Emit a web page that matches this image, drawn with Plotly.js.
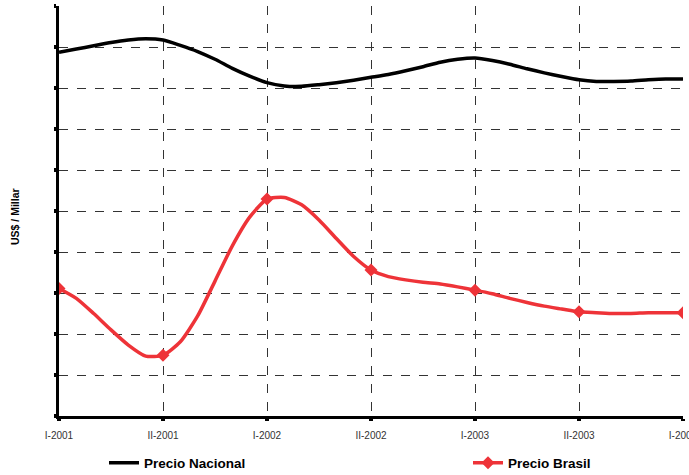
<!DOCTYPE html>
<html>
<head>
<meta charset="utf-8">
<script src="https://cdn.plot.ly/plotly-3.0.1.min.js"></script>
<style>
html,body{margin:0;padding:0;background:#fff;}
#chart{width:689px;height:475px;}
</style>
</head>
<body>
<div id="chart"></div>
<script>
// Monthly positions, I-2001 (0) .. I-2004 (36)
var months = [0,1,2,3,4,5,6,7,8,9,10,11,12,13,14,15,16,17,18,19,20,21,22,23,24,25,26,27,28,29,30,31,32,33,34,35,36];
var tickVals = [0,6,12,18,24,30,36];
var tickLabels = ["I-2001","II-2001","I-2002","II-2002","I-2003","II-2003","I-2004"];
var precioNacional = [8.87,8.95,9.03,9.11,9.17,9.20,9.17,9.04,8.89,8.70,8.48,8.29,8.13,8.05,8.04,8.08,8.13,8.19,8.26,8.33,8.42,8.52,8.63,8.70,8.73,8.67,8.58,8.47,8.37,8.28,8.20,8.16,8.16,8.17,8.20,8.22,8.22];
var precioBrasil = [3.11,2.87,2.50,2.10,1.73,1.46,1.48,1.81,2.44,3.29,4.15,4.85,5.29,5.33,5.15,4.78,4.33,3.89,3.56,3.40,3.32,3.26,3.22,3.15,3.07,2.98,2.87,2.77,2.68,2.61,2.54,2.52,2.50,2.50,2.52,2.52,2.52];

var RED = '#EE3338';
var brColors = months.map(function(m){ return (m % 6 === 0) ? RED : 'rgba(0,0,0,0)'; });

var fontTick = '"Liberation Sans Narrow", "Arial Narrow", "Liberation Sans", Arial, sans-serif';
var fontBold = '"Liberation Sans", Arial, sans-serif';

var traces = [
  {
    x: months, y: precioNacional, name: 'Precio Nacional',
    type: 'scatter', mode: 'lines', legend: 'legend',
    line: {color: '#000000', width: 3.5, shape: 'spline', smoothing: 0.6},
    hoverinfo: 'skip'
  },
  {
    x: months, y: precioBrasil, name: 'Precio Brasil',
    type: 'scatter', mode: 'lines+markers', legend: 'legend2',
    line: {color: RED, width: 3.5, shape: 'spline', smoothing: 0.6},
    marker: {symbol: 'diamond', size: 10, color: brColors, line: {width: 0}},
    hoverinfo: 'skip'
  }
];

var legendFont = {family: fontBold, size: 13.5, color: '#000', weight: 'bold'};

var layout = {
  width: 689, height: 475,
  margin: {l: 59, r: 6, t: 6, b: 59, autoexpand: false},
  paper_bgcolor: '#ffffff', plot_bgcolor: '#ffffff',
  showlegend: true,
  legend: {
    orientation: 'h', x: (104 - 59) / 624, xanchor: 'left', y: (416 - 463) / 410, yanchor: 'middle',
    font: legendFont, bgcolor: 'rgba(0,0,0,0)'
  },
  legend2: {
    orientation: 'h', x: (468 - 59) / 624, xanchor: 'left', y: (416 - 463) / 410, yanchor: 'middle',
    font: legendFont, bgcolor: 'rgba(0,0,0,0)'
  },
  xaxis: {
    range: [0, 36], tickmode: 'array', tickvals: tickVals, ticktext: tickLabels,
    showgrid: true, gridcolor: '#333333', griddash: 'dash', gridwidth: 1,
    showline: true, linecolor: '#000', linewidth: 3,
    ticks: 'outside', ticklen: 2, tickwidth: 4, tickcolor: '#000',
    tickfont: {family: fontTick, size: 10, color: '#333'},
    ticklabelstandoff: 6,
    ticklabeloverflow: 'allow', automargin: false,
    zeroline: false, fixedrange: true
  },
  yaxis: {
    range: [0, 10], dtick: 1, tick0: 0,
    showticklabels: false,
    showgrid: true, gridcolor: '#333333', griddash: 'dash', gridwidth: 1,
    showline: true, linecolor: '#000', linewidth: 3,
    ticks: 'outside', ticklen: 2, tickwidth: 4, tickcolor: '#000',
    automargin: false,
    zeroline: false, fixedrange: true
  },
  annotations: [{
    text: '<b>US$ / Millar</b>', textangle: -90,
    xref: 'paper', yref: 'paper',
    x: (15 - 59) / 624, y: (416 - 217) / 410,
    xanchor: 'center', yanchor: 'middle', showarrow: false,
    font: {family: fontBold, size: 10.5, color: '#000'}
  }]
};

Plotly.newPlot('chart', traces, layout, {displayModeBar: false, staticPlot: true});
</script>
</body>
</html>
